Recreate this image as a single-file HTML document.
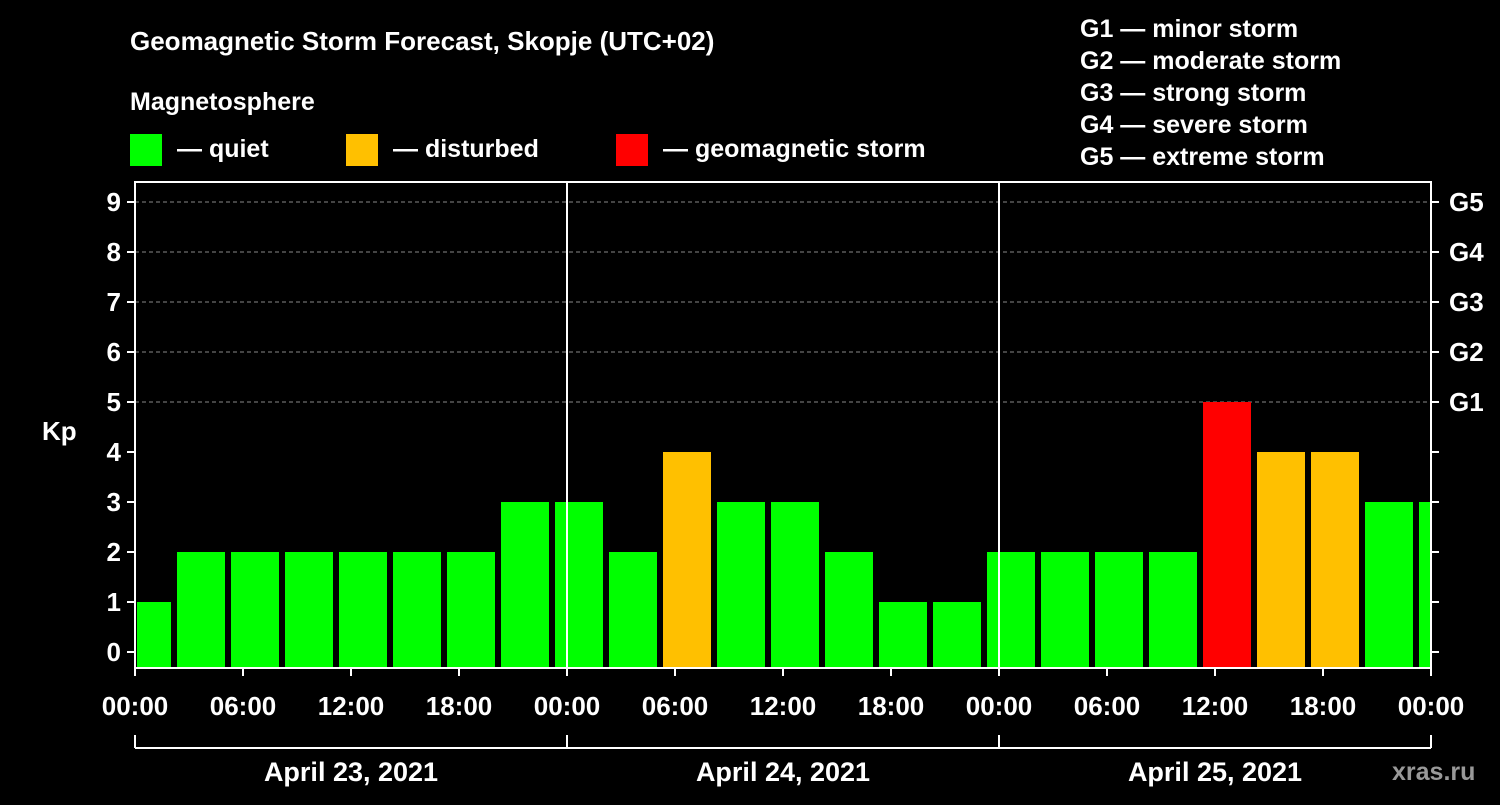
<!DOCTYPE html>
<html><head><meta charset="utf-8"><style>
html,body{margin:0;padding:0;background:#000;}
svg text{font-family:"Liberation Sans",Arial,sans-serif;font-weight:bold;fill:#fff;}
</style></head><body>
<svg id="chart" width="1500" height="800" xmlns="http://www.w3.org/2000/svg">
<rect width="1500" height="800" fill="#000"/>
<text x="130" y="50" font-size="26">Geomagnetic Storm Forecast, Skopje (UTC+02)</text>
<text x="130" y="110" font-size="25">Magnetosphere</text>
<g><rect x="130" y="134" width="32" height="32" fill="#00ff00"/><text x="177" y="157" font-size="25">— quiet</text></g>
<g><rect x="346" y="134" width="32" height="32" fill="#ffc000"/><text x="393" y="157" font-size="25">— disturbed</text></g>
<g><rect x="616" y="134" width="32" height="32" fill="#ff0000"/><text x="663" y="157" font-size="25">— geomagnetic storm</text></g>
<g font-size="25">
<text x="1080" y="37">G1 — minor storm</text>
<text x="1080" y="69">G2 — moderate storm</text>
<text x="1080" y="101">G3 — strong storm</text>
<text x="1080" y="133">G4 — severe storm</text>
<text x="1080" y="165">G5 — extreme storm</text>
</g>
<text x="42" y="440" font-size="26">Kp</text>
<text x="1392" y="780" font-size="25" fill="#888" style="fill:#999">xras.ru</text>
<g id="grid"></g><g id="bars"></g><g id="axes"></g>
</svg>
<script>
const kpValues=[1,2,2,2,2,2,2,3,3,2,4,3,3,2,1,1,2,2,2,2,5,4,4,3,3];
const yTicks=[0,1,2,3,4,5,6,7,8,9];
const gLabels=["G1","G2","G3","G4","G5"];
const xTickLabels=["00:00","06:00","12:00","18:00","00:00","06:00","12:00","18:00","00:00","06:00","12:00","18:00","00:00"];
const dayLabels=["April 23, 2021","April 24, 2021","April 25, 2021"];
const NS="http://www.w3.org/2000/svg";
const L=135,R=1431,T=182,B=668;
const y=v=>652-v*50;
const x=h=>L+h*18; // hours local from start
function mk(tag,attrs,parent){const e=document.createElementNS(NS,tag);for(const k in attrs)e.setAttribute(k,attrs[k]);parent.appendChild(e);return e;}
const grid=document.getElementById('grid'),bars=document.getElementById('bars'),axes=document.getElementById('axes');
for(let v=5;v<=9;v++){const l=mk('line',{x1:L,x2:R,y1:y(v),y2:y(v),stroke:'#888','stroke-dasharray':'4,3','stroke-width':1},grid);

}
kpValues.forEach((v,k)=>{
 let x0=x(-1+3*k)+6,x1=x(2+3*k);
 x0=Math.max(x0,L+2);x1=Math.min(x1,R-1);
 const c=v>=5?'#ff0000':(v>=4?'#ffc000':'#00ff00');
 const r=mk('rect',{x:x0,y:y(v),width:x1-x0,height:B-y(v),fill:c},bars);
 
 
});
for(let d=1;d<3;d++){const l=mk('line',{x1:x(24*d),x2:x(24*d),y1:T,y2:B,stroke:'#fff','stroke-width':2},axes);

}
const fr=mk('rect',{x:L,y:T,width:R-L,height:B-T,fill:'none',stroke:'#fff','stroke-width':2},axes);


yTicks.forEach(v=>{
 mk('line',{x1:L-8,x2:L,y1:y(v),y2:y(v),stroke:'#fff','stroke-width':2},axes);
 mk('line',{x1:R,x2:R+8,y1:y(v),y2:y(v),stroke:'#fff','stroke-width':2},axes);
 const t=mk('text',{x:L-14,y:y(v)+9,'text-anchor':'end','font-size':26},axes);t.textContent=v;
 
 
});
gLabels.forEach((g,i)=>{const t=mk('text',{x:R+18,y:y(5+i)+9,'font-size':26},axes);t.textContent=g;
 
 });
xTickLabels.forEach((s,i)=>{
 mk('line',{x1:x(6*i),x2:x(6*i),y1:B,y2:B+8,stroke:'#fff','stroke-width':2},axes);
 const t=mk('text',{x:x(6*i),y:715,'text-anchor':'middle','font-size':26},axes);t.textContent=s;
 
 
});
mk('line',{x1:L,x2:R,y1:748,y2:748,stroke:'#fff','stroke-width':2},axes);
for(let d=0;d<=3;d++)mk('line',{x1:x(24*d),x2:x(24*d),y1:735,y2:748,stroke:'#fff','stroke-width':2},axes);
dayLabels.forEach((s,i)=>{const t=mk('text',{x:x(24*i+12),y:781,'text-anchor':'middle','font-size':27},axes);t.textContent=s;
 
 });
</script>
</body></html>
